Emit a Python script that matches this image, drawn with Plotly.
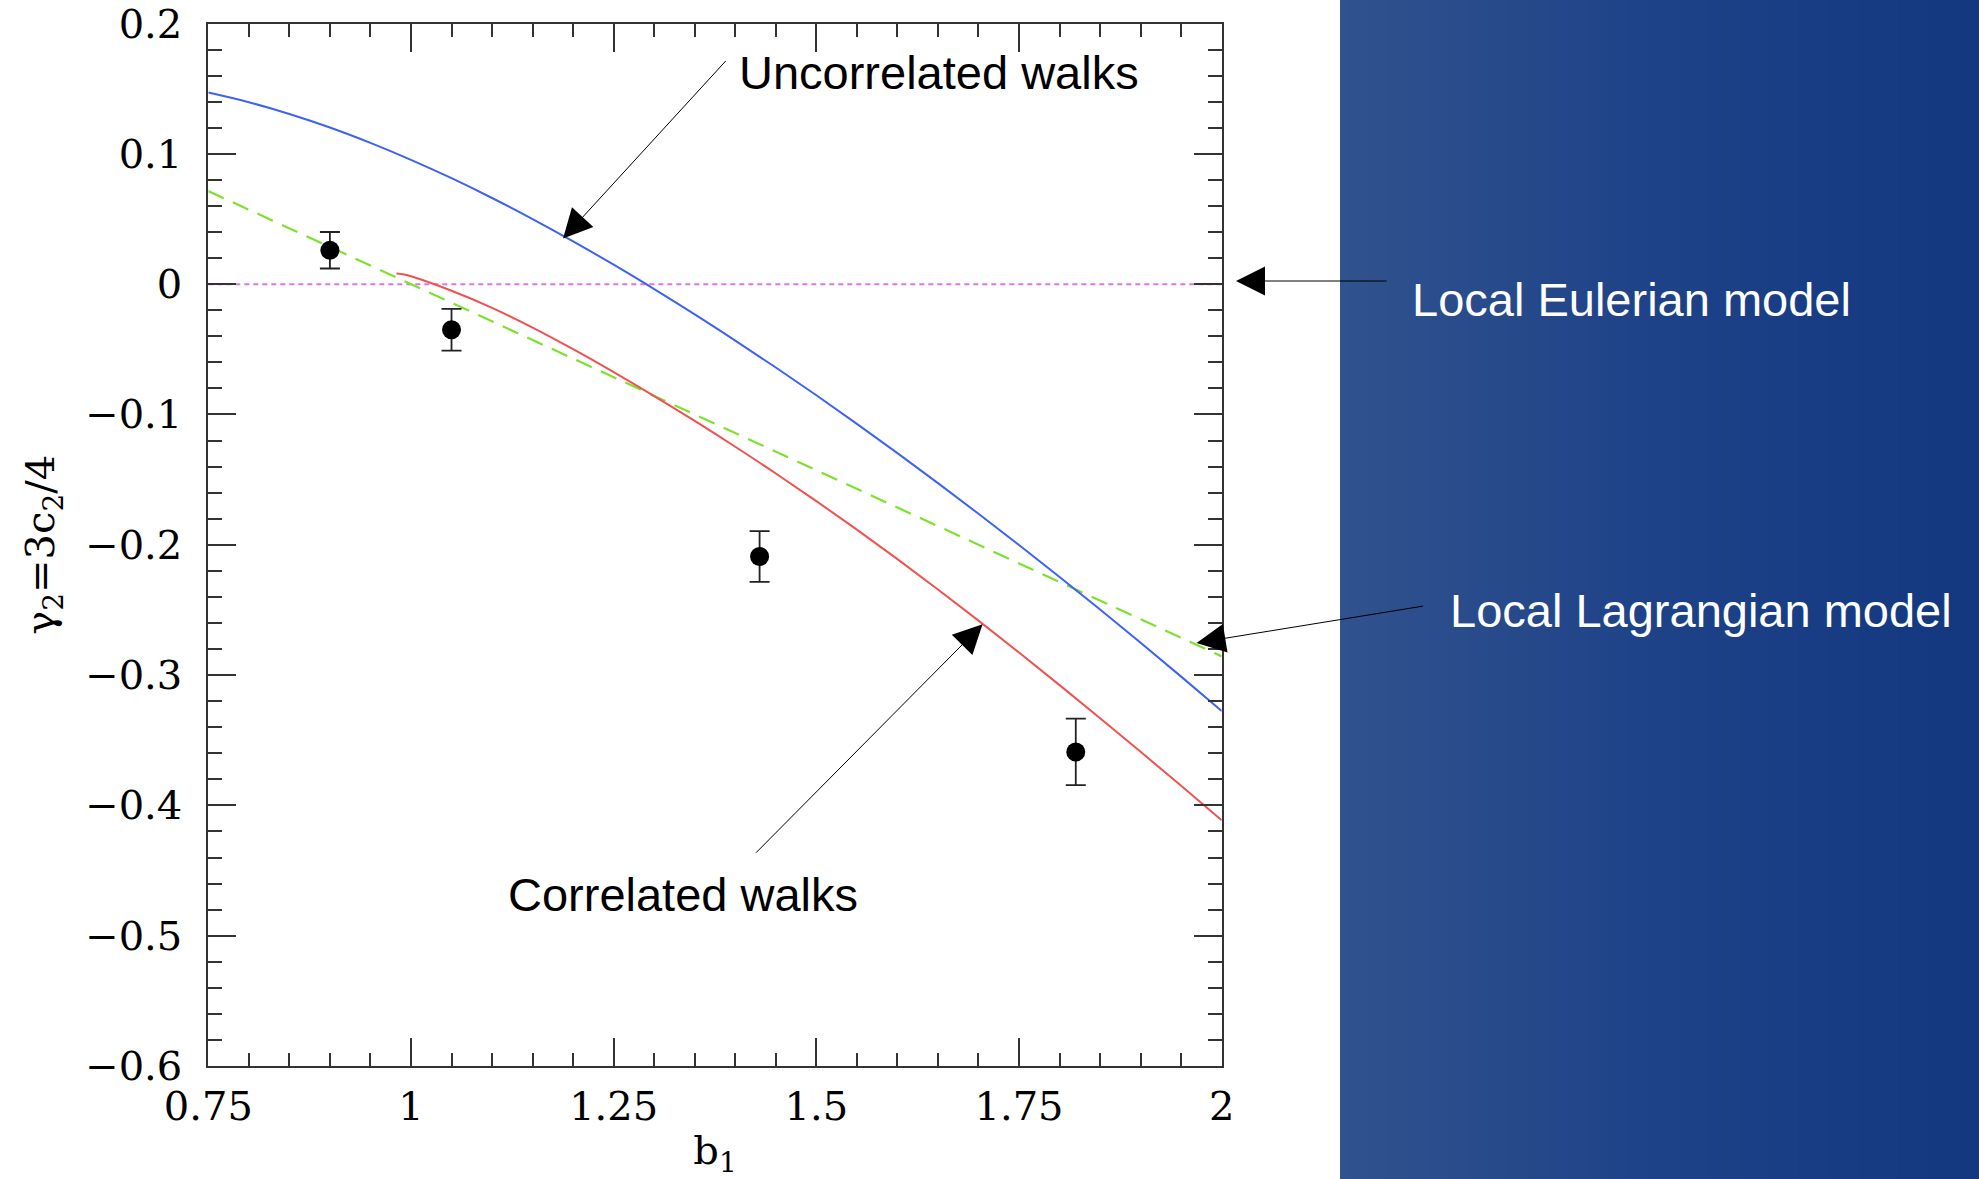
import plotly.graph_objects as go

W, H = 1979, 1179

# ---------------- data ----------------
b1_uncorr = [0.75, 0.80, 0.85, 0.90, 0.95, 1.00, 1.05, 1.10, 1.15, 1.20, 1.25, 1.30, 1.35,
             1.40, 1.45, 1.50, 1.55, 1.60, 1.65, 1.70, 1.75, 1.80, 1.85, 1.90, 1.95, 2.00]
gamma_uncorr = [0.1470, 0.1396, 0.1306, 0.1202, 0.1084, 0.0954, 0.0813, 0.0661, 0.0499,
                0.0328, 0.0149, -0.0038, -0.0232, -0.0433, -0.0640, -0.0853, -0.1072,
                -0.1297, -0.1527, -0.1762, -0.2002, -0.2247, -0.2497, -0.2752, -0.3012,
                -0.3276]

b1_corr = [0.982, 0.99, 1.00, 1.05, 1.10, 1.15, 1.20, 1.25, 1.30, 1.35, 1.40, 1.45, 1.50,
           1.55, 1.60, 1.65, 1.70, 1.75, 1.80, 1.85, 1.90, 1.95, 2.00]
gamma_corr = [0.0082, 0.0076, 0.0060, -0.0051, -0.0182, -0.0333, -0.0499, -0.0675, -0.0859,
              -0.1050, -0.1248, -0.1453, -0.1665, -0.1884, -0.2110, -0.2343, -0.2582,
              -0.2827, -0.3077, -0.3331, -0.3589, -0.3850, -0.4114]

b1_lagr = [0.75, 2.0]
gamma_lagr = [0.0714, -0.2857]

b1_euler = [0.75, 2.0]
gamma_euler = [0.0, 0.0]

b1_data = [0.90, 1.05, 1.43, 1.82]
gamma_data = [0.026, -0.035, -0.209, -0.359]
gamma_err = [0.014, 0.016, 0.0195, 0.0255]

x_tickvals = [0.75, 1.0, 1.25, 1.5, 1.75, 2.0]
x_ticktext = ["0.75", "1", "1.25", "1.5", "1.75", "2"]
y_tickvals = [0.2, 0.1, 0.0, -0.1, -0.2, -0.3, -0.4, -0.5, -0.6]
y_ticktext = ["0.2", "0.1", "0", "\u22120.1", "\u22120.2", "\u22120.3", "\u22120.4", "\u22120.5", "\u22120.6"]

labels = ["Uncorrelated walks", "Local Eulerian model", "Local Lagrangian model", "Correlated walks"]

# ---------------- figure ----------------
fig = go.Figure()

fig.add_trace(go.Scatter(x=b1_euler, y=gamma_euler, mode="lines",
                         line=dict(color="#e470f0", width=2, dash="5px,4px"),
                         showlegend=False, hoverinfo="skip"))
fig.add_trace(go.Scatter(x=b1_lagr, y=gamma_lagr, mode="lines",
                         line=dict(color="#80e030", width=2.2, dash="17px,10px"),
                         showlegend=False))
fig.add_trace(go.Scatter(x=b1_uncorr, y=gamma_uncorr, mode="lines", line_shape="spline",
                         line=dict(color="#3d62f5", width=2), showlegend=False))
fig.add_trace(go.Scatter(x=b1_corr, y=gamma_corr, mode="lines", line_shape="spline",
                         line=dict(color="#f05252", width=2), showlegend=False))
fig.add_trace(go.Scatter(x=b1_data, y=gamma_data, mode="markers",
                         marker=dict(color="black", size=19),
                         error_y=dict(type="data", array=gamma_err, color="#222222",
                                      thickness=1.8, width=10),
                         showlegend=False))

# plot-area placement in figure pixels
x0p, x1p, y0p, y1p = 208.3, 1221.7, 23.5, 1066.0

def px(x):
    return x / W

def py(y):
    return 1 - y / H

axis_common = dict(
    automargin=False,
    showline=True, linecolor="#333333", linewidth=2, mirror="allticks",
    ticks="inside", ticklen=28, tickwidth=2, tickcolor="#333333",
    showgrid=False, zeroline=False,
    tickfont=dict(family="DejaVu Serif", size=40, color="black"),
)

fig.update_layout(
    template="none",
    width=W, height=H,
    margin=dict(l=0, r=0, t=0, b=0, pad=0),
    paper_bgcolor="white", plot_bgcolor="white",
    xaxis=dict(
        domain=[px(x0p), px(x1p)], range=[0.75, 2.0],
        tickmode="array", tickvals=x_tickvals, ticktext=x_ticktext,
        minor=dict(ticks="inside", dtick=0.05, tick0=0.75, ticklen=13, tickwidth=2,
                   tickcolor="#333333", showgrid=False),
        ticklabelstandoff=4,
        title=dict(text="b<sub>1</sub>", font=dict(family="DejaVu Serif", size=40, color="black"),
                   standoff=11),
        **axis_common,
    ),
    yaxis=dict(
        domain=[py(y1p), py(y0p)], range=[-0.6, 0.2],
        tickmode="array", tickvals=y_tickvals, ticktext=y_ticktext,
        minor=dict(ticks="inside", dtick=0.02, tick0=0.0, ticklen=14, tickwidth=2,
                   tickcolor="#333333", showgrid=False),
        ticklabelstandoff=16,
        title=dict(text="\u03b3<sub>2</sub>=3c<sub>2</sub>/4",
                   font=dict(family="DejaVu Serif", size=40, color="black"), standoff=18),
        **axis_common,
    ),
)

# blue gradient panel on the right (vertical strips)
left_c = (48, 82, 141)
mid_c = (30, 66, 136)
right_c = (20, 56, 128)
n = 64
xs0, xs1 = 1340, W
for i in range(n):
    t = i / (n - 1)
    if t < 0.5:
        u = t / 0.5
        c = [round(left_c[k] + (mid_c[k] - left_c[k]) * u) for k in range(3)]
    else:
        u = (t - 0.5) / 0.5
        c = [round(mid_c[k] + (right_c[k] - mid_c[k]) * u) for k in range(3)]
    a = xs0 + (xs1 - xs0) * i / n
    b = xs0 + (xs1 - xs0) * (i + 1) / n + 1
    fig.add_shape(type="rect", xref="paper", yref="paper",
                  x0=px(a), x1=px(min(b, W)), y0=0, y1=1,
                  fillcolor=f"rgb({c[0]},{c[1]},{c[2]})", line=dict(width=0), layer="below")

# arrows (tip in data or paper coords, tail as pixel offset)
arrow_style = dict(showarrow=True, arrowhead=2, arrowsize=5.8, arrowwidth=1,
                   arrowcolor="black", text="", standoff=0, startstandoff=0)
fig.add_annotation(x=1.1876, y=0.0350, xref="x", yref="y", ax=164, ay=-179, **arrow_style)
fig.add_annotation(x=px(1236), y=py(281), xref="paper", yref="paper", ax=152, ay=0, **arrow_style)
fig.add_annotation(x=1.969, y=-0.2753, xref="x", yref="y", ax=228, ay=-37, **arrow_style)
fig.add_annotation(x=1.705, y=-0.261, xref="x", yref="y", ax=-228, ay=230, **arrow_style)

# text labels
text_font = dict(family="Liberation Sans", size=47)
label_pos = [(939, 73, "black"), (1631, 299, "white"), (1701, 610, "white"), (683, 894, "black")]
for lab, (lx, ly, col) in zip(labels, label_pos):
    fig.add_annotation(x=px(lx), y=py(ly), xref="paper", yref="paper", text=lab,
                       xanchor="center", yanchor="middle",
                       showarrow=False, font=dict(color=col, **text_font))

fig.write_html("out.html", config={"displayModeBar": False},
               post_script="document.body.style.margin='0';document.body.style.overflow='hidden';")
